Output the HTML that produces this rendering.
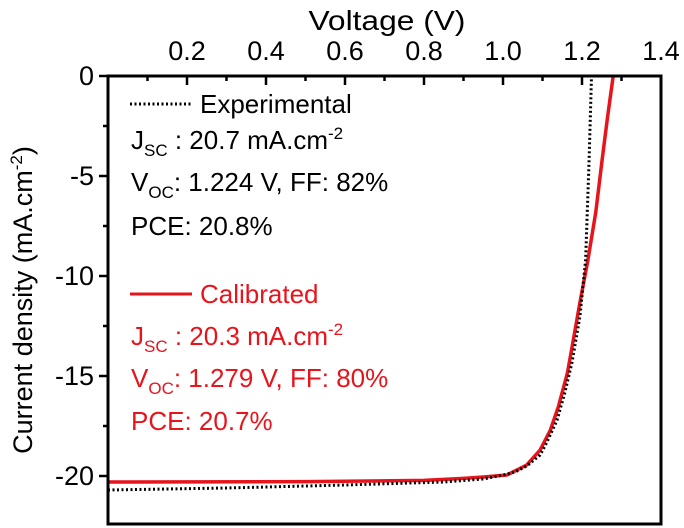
<!DOCTYPE html>
<html><head><meta charset="utf-8"><style>
body{margin:0;background:#fff;}
svg{display:block;font-family:"Liberation Sans",Arial,sans-serif;}
</style></head><body>
<svg id="chart" width="684" height="528" viewBox="0 0 684 528">
<rect x="0" y="0" width="684" height="528" fill="#fff"/>
<g id="plot"></g>
<text x="387" y="30" font-size="28" text-anchor="middle" textLength="157" lengthAdjust="spacingAndGlyphs">Voltage (V)</text>
<text transform="translate(32,300) rotate(-90)" font-size="27" text-anchor="middle">Current density (mA.cm<tspan dy="-10" font-size="17">-2</tspan><tspan dy="10">)</tspan></text>
<g font-size="26">
 <line x1="130" y1="104" x2="192" y2="104" stroke="#000" stroke-width="3" stroke-dasharray="2,2.5"/>
 <text x="200" y="113">Experimental</text>
 <text x="131" y="149">J<tspan dy="7" font-size="17">SC</tspan><tspan dy="-7"> : 20.7 mA.cm</tspan><tspan dy="-10" font-size="17">-2</tspan></text>
 <text x="131" y="191">V<tspan dy="7" font-size="17">OC</tspan><tspan dy="-7">: 1.224 V, FF: 82%</tspan></text>
 <text x="131" y="235">PCE: 20.8%</text>
 <line x1="130" y1="294" x2="192" y2="294" stroke="#e8141c" stroke-width="3"/>
 <text x="200" y="303" fill="#e8141c">Calibrated</text>
 <text x="131" y="345" fill="#e8141c">J<tspan dy="7" font-size="17">SC</tspan><tspan dy="-7"> : 20.3 mA.cm</tspan><tspan dy="-10" font-size="17">-2</tspan></text>
 <text x="131" y="387" fill="#e8141c">V<tspan dy="7" font-size="17">OC</tspan><tspan dy="-7">: 1.279 V, FF: 80%</tspan></text>
 <text x="131" y="430" fill="#e8141c">PCE: 20.7%</text>
</g>
</svg>
<script>
const xTicks=[0.2,0.4,0.6,0.8,1.0,1.2,1.4];
const yTicks=[0,-5,-10,-15,-20];
const expV=[0,0.3,0.6,0.85,0.95,1.0,1.03,1.06,1.094,1.11,1.137,1.157,1.175,1.195,1.209,1.218,1.224];
const expJ=[-20.7,-20.6,-20.45,-20.3,-20.15,-19.95,-19.8,-19.5,-18.95,-18.35,-17.2,-15.8,-14.3,-12,-9.2,-4.2,0];
const calV=[0,0.5,0.8,0.9,0.95,1.01,1.06,1.094,1.12,1.14,1.163,1.178,1.195,1.215,1.235,1.251,1.265,1.279];
const calJ=[-20.3,-20.28,-20.22,-20.12,-20.05,-19.95,-19.45,-18.7,-17.7,-16.55,-14.85,-13.2,-11.3,-9.2,-6.8,-4.2,-2.0,0];
const X0=108,X1=661,Y0=76,Y1=524;
const sx=v=>X0+v/1.4*(X1-X0);
const sy=j=>Y0-j*20;
const NS="http://www.w3.org/2000/svg";
const g=document.getElementById('plot');
function mk(t,a){const e=document.createElementNS(NS,t);for(const k in a)e.setAttribute(k,a[k]);g.appendChild(e);return e;}
function path(V,J,attrs,name){
 const d=V.map((v,i)=>(i?'L':'M')+sx(v).toFixed(1)+','+sy(J[i]).toFixed(1)).join(' ');
 const p=mk('path',Object.assign({d:d,fill:'none'},attrs));
 
 
}
path(calV,calJ,{stroke:'#e8141c','stroke-width':3.5,'stroke-linejoin':'round'},'series-calibrated');
path(expV,expJ,{stroke:'#000','stroke-width':3,'stroke-dasharray':'2,2.5'},'series-experimental');
const frame=mk('rect',{x:X0,y:Y0,width:X1-X0,height:Y1-Y0,fill:'none',stroke:'#000','stroke-width':3});


for(let i=1;i<14;i++){
 const v=i*0.1,x=sx(v),major=i%2===0;
 const t=mk('line',{x1:x,y1:Y0,x2:x,y2:Y0+(major?9:5),stroke:'#000','stroke-width':2.5});
 
 
}
xTicks.forEach(v=>{
 const t=mk('text',{x:sx(v),y:60,'font-size':27,'text-anchor':'middle'});
 t.textContent=v.toFixed(1);
 
 
});
for(let j=0;j>=-22;j-=2.5){
 const y=sy(j),major=(j%5===0);
 const t=mk('line',{x1:X0,y1:y,x2:X0-(major?9:5),y2:y,stroke:'#000','stroke-width':2.5});
 
 
}
yTicks.forEach(j=>{
 const t=mk('text',{x:X0-14,y:sy(j)+9,'font-size':27,'text-anchor':'end'});
 t.textContent=j===0?'0':String(j);
 
 
});
</script>
</body></html>
